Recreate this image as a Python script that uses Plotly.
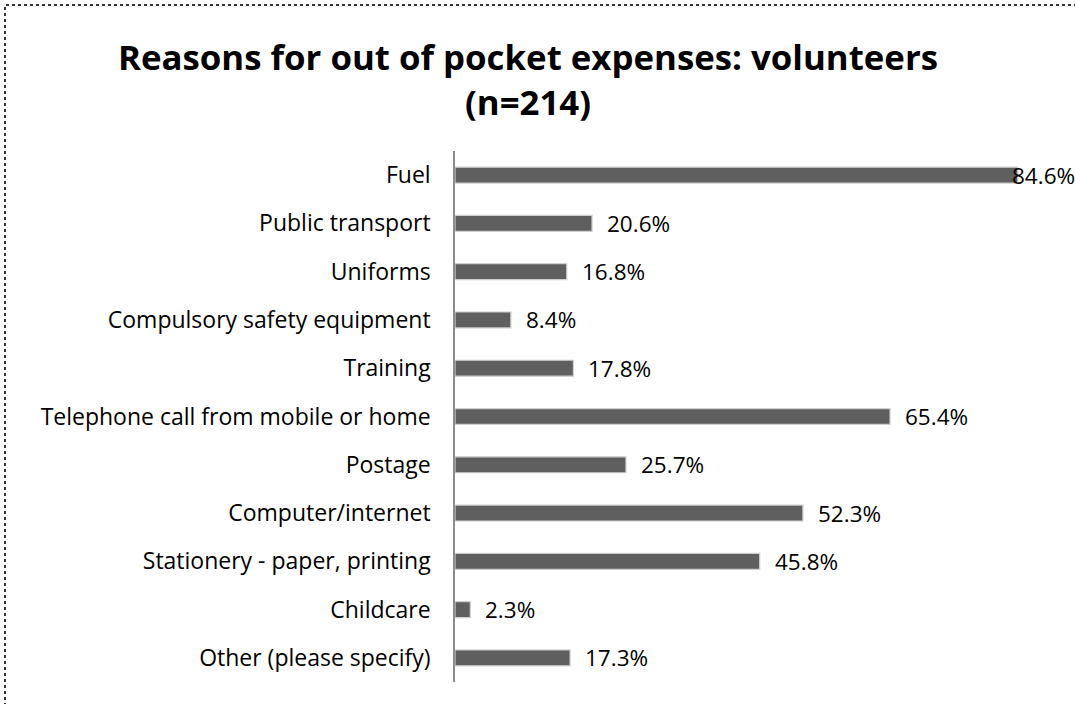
import plotly.graph_objects as go

categories = [
    "Fuel",
    "Public transport",
    "Uniforms",
    "Compulsory safety equipment",
    "Training",
    "Telephone call from mobile or home",
    "Postage",
    "Computer/internet",
    "Stationery - paper, printing",
    "Childcare",
    "Other (please specify)",
]
values = [84.6, 20.6, 16.8, 8.4, 17.8, 65.4, 25.7, 52.3, 45.8, 2.3, 17.3]
labels = [f"{v:.1f}%" for v in values]

W, H = 1075, 704
ML, MR, MT, MB = 455, 0, 151, 22
XMAX = 93.2
FONT = "Open Sans"
LBL = 22.5

fig = go.Figure()
fig.add_trace(go.Bar(
    x=values, y=categories, orientation="h",
    marker=dict(color="#5f5f5f", line=dict(color="#cfcfcf", width=1.2)),
    width=0.33, hoverinfo="skip",
))

annotations = []
for c, v, t in zip(categories, values, labels):
    if v > XMAX - 10:
        annotations.append(dict(x=XMAX, y=c, xref="x", yref="y", text=t,
                                showarrow=False, xanchor="right", xshift=2,
                                font=dict(size=LBL, color="#000", family=FONT)))
    else:
        annotations.append(dict(x=v, y=c, xref="x", yref="y", text=t,
                                showarrow=False, xanchor="left", xshift=13,
                                font=dict(size=LBL, color="#000", family=FONT)))

pw = W - ML - MR
ph = H - MT - MB
fig.add_shape(type="rect", xref="paper", yref="paper",
              x0=(5 - ML) / pw, x1=(W + 5 - ML) / pw,
              y0=-(MB + 5) / ph,
              y1=(MT - 5) / ph + 1,
              line=dict(color="#333", width=2, dash="dot"))

fig.update_layout(
    width=W, height=H,
    margin=dict(l=ML, r=MR, t=MT, b=MB, autoexpand=False),
    paper_bgcolor="white", plot_bgcolor="white",
    title=dict(text="<b>Reasons for out of pocket expenses: volunteers<br>(n=214)</b>",
               x=528 / W, xref="container", xanchor="center",
               y=1 - 70 / H, yref="container", yanchor="middle",
               font=dict(size=34.8, color="#000", family=FONT)),
    xaxis=dict(range=[0, XMAX], visible=False, fixedrange=True),
    yaxis=dict(autorange="reversed", showline=True, linecolor="#8c8c8c", linewidth=1.5,
               ticks="", tickfont=dict(size=23, color="#000", family=FONT),
               ticklabelstandoff=18, showgrid=False, automargin=False, fixedrange=True),
    annotations=annotations,
    showlegend=False,
    bargap=0.67,
)

fig.write_html("out.html", config={"displayModeBar": False},
               post_script="document.body.style.margin='0';document.body.style.overflow='hidden';")
